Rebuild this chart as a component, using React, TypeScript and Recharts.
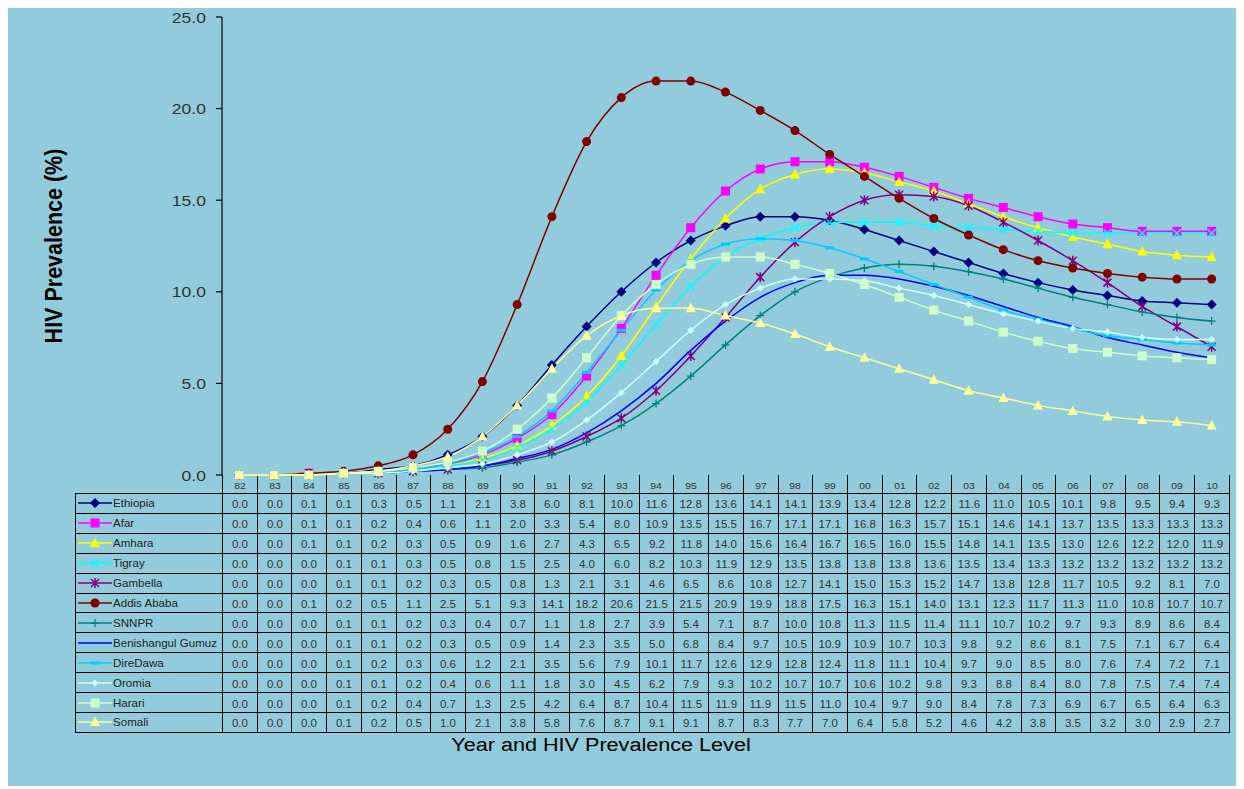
import React from "react";
import { LineChart, Line, XAxis, YAxis } from "recharts";

const years = ["82", "83", "84", "85", "86", "87", "88", "89", "90", "91", "92", "93", "94", "95", "96", "97", "98", "99", "00", "01", "02", "03", "04", "05", "06", "07", "08", "09", "10"];

const ethiopia = [0.0, 0.0, 0.1, 0.1, 0.3, 0.5, 1.1, 2.1, 3.8, 6.0, 8.1, 10.0, 11.6, 12.8, 13.6, 14.1, 14.1, 13.9, 13.4, 12.8, 12.2, 11.6, 11.0, 10.5, 10.1, 9.8, 9.5, 9.4, 9.3];
const afar = [0.0, 0.0, 0.1, 0.1, 0.2, 0.4, 0.6, 1.1, 2.0, 3.3, 5.4, 8.0, 10.9, 13.5, 15.5, 16.7, 17.1, 17.1, 16.8, 16.3, 15.7, 15.1, 14.6, 14.1, 13.7, 13.5, 13.3, 13.3, 13.3];
const amhara = [0.0, 0.0, 0.1, 0.1, 0.2, 0.3, 0.5, 0.9, 1.6, 2.7, 4.3, 6.5, 9.2, 11.8, 14.0, 15.6, 16.4, 16.7, 16.5, 16.0, 15.5, 14.8, 14.1, 13.5, 13.0, 12.6, 12.2, 12.0, 11.9];
const tigray = [0.0, 0.0, 0.0, 0.1, 0.1, 0.3, 0.5, 0.8, 1.5, 2.5, 4.0, 6.0, 8.2, 10.3, 11.9, 12.9, 13.5, 13.8, 13.8, 13.8, 13.6, 13.5, 13.4, 13.3, 13.2, 13.2, 13.2, 13.2, 13.2];
const gambella = [0.0, 0.0, 0.0, 0.1, 0.1, 0.2, 0.3, 0.5, 0.8, 1.3, 2.1, 3.1, 4.6, 6.5, 8.6, 10.8, 12.7, 14.1, 15.0, 15.3, 15.2, 14.7, 13.8, 12.8, 11.7, 10.5, 9.2, 8.1, 7.0];
const addisAbaba = [0.0, 0.0, 0.1, 0.2, 0.5, 1.1, 2.5, 5.1, 9.3, 14.1, 18.2, 20.6, 21.5, 21.5, 20.9, 19.9, 18.8, 17.5, 16.3, 15.1, 14.0, 13.1, 12.3, 11.7, 11.3, 11.0, 10.8, 10.7, 10.7];
const snnpr = [0.0, 0.0, 0.0, 0.1, 0.1, 0.2, 0.3, 0.4, 0.7, 1.1, 1.8, 2.7, 3.9, 5.4, 7.1, 8.7, 10.0, 10.8, 11.3, 11.5, 11.4, 11.1, 10.7, 10.2, 9.7, 9.3, 8.9, 8.6, 8.4];
const benishangul = [0.0, 0.0, 0.0, 0.1, 0.1, 0.2, 0.3, 0.5, 0.9, 1.4, 2.3, 3.5, 5.0, 6.8, 8.4, 9.7, 10.5, 10.9, 10.9, 10.7, 10.3, 9.8, 9.2, 8.6, 8.1, 7.5, 7.1, 6.7, 6.4];
const direDawa = [0.0, 0.0, 0.0, 0.1, 0.2, 0.3, 0.6, 1.2, 2.1, 3.5, 5.6, 7.9, 10.1, 11.7, 12.6, 12.9, 12.8, 12.4, 11.8, 11.1, 10.4, 9.7, 9.0, 8.5, 8.0, 7.6, 7.4, 7.2, 7.1];
const oromia = [0.0, 0.0, 0.0, 0.1, 0.1, 0.2, 0.4, 0.6, 1.1, 1.8, 3.0, 4.5, 6.2, 7.9, 9.3, 10.2, 10.7, 10.7, 10.6, 10.2, 9.8, 9.3, 8.8, 8.4, 8.0, 7.8, 7.5, 7.4, 7.4];
const harari = [0.0, 0.0, 0.0, 0.1, 0.2, 0.4, 0.7, 1.3, 2.5, 4.2, 6.4, 8.7, 10.4, 11.5, 11.9, 11.9, 11.5, 11.0, 10.4, 9.7, 9.0, 8.4, 7.8, 7.3, 6.9, 6.7, 6.5, 6.4, 6.3];
const somali = [0.0, 0.0, 0.0, 0.1, 0.2, 0.5, 1.0, 2.1, 3.8, 5.8, 7.6, 8.7, 9.1, 9.1, 8.7, 8.3, 7.7, 7.0, 6.4, 5.8, 5.2, 4.6, 4.2, 3.8, 3.5, 3.2, 3.0, 2.9, 2.7];

const yTicks = [0, 5, 10, 15, 20, 25];

type Shape = "diamond" | "square" | "triangle" | "x" | "star" | "circle" | "plus" | "none" | "dash" | "smalldiamond";

const series: { key: string; name: string; values: number[]; color: string; shape: Shape }[] = [
  { key: "eth", name: "Ethiopia", values: ethiopia, color: "#000080", shape: "diamond" },
  { key: "afar", name: "Afar", values: afar, color: "#FF00FF", shape: "square" },
  { key: "amh", name: "Amhara", values: amhara, color: "#FFFF00", shape: "triangle" },
  { key: "tig", name: "Tigray", values: tigray, color: "#00FFFF", shape: "x" },
  { key: "gam", name: "Gambella", values: gambella, color: "#800080", shape: "star" },
  { key: "addis", name: "Addis Ababa", values: addisAbaba, color: "#800000", shape: "circle" },
  { key: "snnpr", name: "SNNPR", values: snnpr, color: "#008080", shape: "plus" },
  { key: "ben", name: "Benishangul Gumuz", values: benishangul, color: "#0000FF", shape: "none" },
  { key: "dire", name: "DireDawa", values: direDawa, color: "#00CCFF", shape: "dash" },
  { key: "oro", name: "Oromia", values: oromia, color: "#CCFFFF", shape: "smalldiamond" },
  { key: "har", name: "Harari", values: harari, color: "#CCFFCC", shape: "square" },
  { key: "som", name: "Somali", values: somali, color: "#FFFF99", shape: "triangle" },
];

const data = years.map((year, i) => {
  const row: Record<string, string | number> = { year };
  series.forEach((s) => (row[s.key] = s.values[i]));
  return row;
});

const FONT = "Arial, 'Liberation Sans', sans-serif";
const BG = "#92CBDB";
const COL_W = 1007 / 29;

function Marker({ shape, cx, cy, color }: { shape: Shape; cx: number; cy: number; color: string }) {
  switch (shape) {
    case "diamond":
      return <polygon points={`${cx},${cy - 5} ${cx + 5},${cy} ${cx},${cy + 5} ${cx - 5},${cy}`} fill={color} />;
    case "smalldiamond":
      return <polygon points={`${cx},${cy - 3.5} ${cx + 3.5},${cy} ${cx},${cy + 3.5} ${cx - 3.5},${cy}`} fill={color} />;
    case "square":
      return <rect x={cx - 4.5} y={cy - 4.5} width={9} height={9} fill={color} />;
    case "triangle":
      return <polygon points={`${cx},${cy - 5.5} ${cx + 5},${cy + 4} ${cx - 5},${cy + 4}`} fill={color} />;
    case "x":
      return <path d={`M${cx - 4},${cy - 4}L${cx + 4},${cy + 4}M${cx + 4},${cy - 4}L${cx - 4},${cy + 4}`} stroke={color} strokeWidth={1.5} />;
    case "star":
      return (
        <path
          d={`M${cx - 4},${cy - 4}L${cx + 4},${cy + 4}M${cx + 4},${cy - 4}L${cx - 4},${cy + 4}M${cx},${cy - 5}L${cx},${cy + 5}`}
          stroke={color}
          strokeWidth={1.5}
        />
      );
    case "circle":
      return <circle cx={cx} cy={cy} r={4.5} fill={color} />;
    case "plus":
      return <path d={`M${cx},${cy - 4}L${cx},${cy + 4}M${cx - 4},${cy}L${cx + 4},${cy}`} stroke={color} strokeWidth={1.3} />;
    case "dash":
      return <rect x={cx - 4.5} y={cy - 1.5} width={9} height={3} fill={color} />;
    default:
      return <g />;
  }
}

const YTick = (props: any) => {
  const { x, y, payload } = props;
  return (
    <text
      x={x}
      y={y}
      textAnchor="end"
      dominantBaseline="central"
      fontSize={15}
      fontFamily={FONT}
      fill="#333"
      transform={`translate(${x} ${y}) scale(1.17 1) translate(${-x} ${-y})`}
    >
      {Number(payload.value).toFixed(1)}
    </text>
  );
};

const cellText = (txt: string, size: number, sx: number, color = "#333") => (
  <span style={{ display: "inline-block", fontSize: size, color, transform: `scaleX(${sx})`, whiteSpace: "nowrap" }}>{txt}</span>
);

const border = "1px solid #000";

export default function App() {
  return (
    <div style={{ position: "relative", width: 1230, height: 778, background: BG, fontFamily: FONT, overflow: "hidden" }}>
      <table
        style={{
          position: "absolute",
          left: 67,
          top: 467,
          width: 1154,
          borderCollapse: "collapse",
          tableLayout: "fixed",
        }}
      >
        <colgroup>
          <col style={{ width: 147 }} />
          {years.map((y) => (
            <col key={y} style={{ width: COL_W }} />
          ))}
        </colgroup>
        <tbody>
          <tr style={{ height: 18 }}>
            <td style={{ padding: 0 }} />
            {years.map((y) => (
              <td key={y} style={{ borderLeft: border, borderRight: border, borderBottom: border, textAlign: "center", padding: 0 }}>
                {cellText(y, 9, 1.15)}
              </td>
            ))}
          </tr>
          {series.map((s) => (
            <tr key={s.key} style={{ height: 19.92 }}>
              <td style={{ border, padding: "0 0 0 2px", whiteSpace: "nowrap", overflow: "hidden" }}>
                <div style={{ display: "flex", alignItems: "center" }}>
                  <svg width={34} height={12} style={{ flex: "none" }}>
                    <line x1={0} y1={6} x2={34} y2={6} stroke={s.color} strokeWidth={1.5} />
                    <Marker shape={s.shape} cx={17} cy={6} color={s.color} />
                  </svg>
                  <span style={{ display: "inline-block", fontSize: 10.5, color: "#222", transform: "scaleX(1.1)", transformOrigin: "left center", marginLeft: 1 }}>
                    {s.name}
                  </span>
                </div>
              </td>
              {s.values.map((v, i) => (
                <td key={i} style={{ border, textAlign: "center", padding: 0 }}>
                  {cellText(v.toFixed(1), 10, 1.15)}
                </td>
              ))}
            </tr>
          ))}
        </tbody>
      </table>

      <div style={{ position: "absolute", left: 0, top: 0, zIndex: 1, pointerEvents: "none" }}>
        <LineChart width={1230} height={482} data={data} margin={{ top: 9, right: 9, bottom: 15, left: 0 }}>
          <XAxis
            dataKey="year"
            height={0}
            tick={false}
            tickLine={false}
            axisLine={{ stroke: "#000", strokeWidth: 1.2 }}
            padding={{ left: COL_W / 2, right: COL_W / 2 }}
          />
          <YAxis
            width={214}
            domain={[0, 25]}
            ticks={yTicks}
            tickSize={6}
            tickMargin={10}
            tick={<YTick />}
            axisLine={{ stroke: "#000", strokeWidth: 1.2 }}
            tickLine={{ stroke: "#000", strokeWidth: 1.2 }}
          />
          {series.map((s) => (
            <Line
              key={s.key}
              dataKey={s.key}
              name={s.name}
              type="monotone"
              stroke={s.color}
              strokeWidth={1.5}
              isAnimationActive={false}
              activeDot={false}
              dot={(p: any) => <Marker key={`${s.key}-${p.index}`} shape={s.shape} cx={p.cx} cy={p.cy} color={s.color} />}
            />
          ))}
        </LineChart>
      </div>

      <div
        style={{
          position: "absolute",
          left: 47,
          top: 238,
          transform: "translate(-50%, -50%) rotate(-90deg) scaleY(1.1)",
          fontSize: 21.5,
          fontWeight: "bold",
          whiteSpace: "nowrap",
          color: "#000",
        }}
      >
        HIV Prevalence (%)
      </div>
      <div
        style={{
          position: "absolute",
          left: 593,
          top: 737,
          transform: "translate(-50%, -50%) scaleX(1.2)",
          fontSize: 18,
          whiteSpace: "nowrap",
          color: "#000",
        }}
      >
        Year and HIV Prevalence Level
      </div>
    </div>
  );
}
